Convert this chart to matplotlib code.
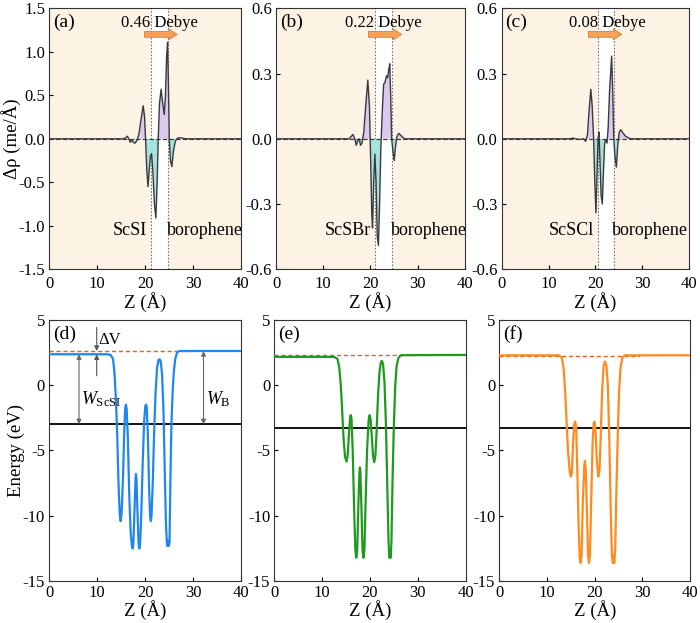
import matplotlib
matplotlib.use("Agg")
from matplotlib import pyplot as plt

plt.rcParams['font.family'] = ['Liberation Serif', 'DejaVu Serif']
plt.rcParams['mathtext.fontset'] = 'custom'
plt.rcParams['mathtext.rm'] = 'Liberation Serif'
plt.rcParams['mathtext.it'] = 'Liberation Serif:italic'
plt.rcParams['axes.unicode_minus'] = False

# ---- charge density difference (top row) ----
za = [0, 15.5, 15.9, 16.3, 16.6, 16.9, 17.2, 17.5, 17.9, 18.3, 18.7, 19.1, 19.6, 19.9, 20.1,
      20.35, 20.6, 20.85, 21.1, 21.35, 21.6, 21.95, 22.25, 22.5, 22.75, 23.0, 23.35, 23.7,
      24.0, 24.25, 24.5, 24.7, 24.85, 25.05, 25.3, 25.6, 25.9, 26.3, 26.8, 27.5, 28.5, 40]
rho_a = [0, 0, 0.01, 0.03, 0.0, -0.04, -0.01, -0.04, -0.05, -0.02, 0.05, 0.2, 0.38, 0.25, 0.0,
         -0.35, -0.55, -0.38, -0.2, -0.17, -0.35, -0.75, -0.91, -0.55, 0.0, 0.4, 0.57, 0.4,
         0.28, 0.5, 0.95, 1.11, 0.7, 0.0, -0.25, -0.32, -0.15, -0.03, 0.01, 0.01, 0.0, 0]

zb = [0, 15.5, 15.9, 16.3, 16.7, 17.0, 17.3, 17.6, 17.9, 18.2, 18.6, 19.0, 19.45, 19.8, 20.05,
      20.3, 20.45, 20.7, 20.95, 21.2, 21.45, 21.7, 21.95, 22.2, 22.5, 22.8, 23.1, 23.4, 23.65,
      23.9, 24.1, 24.3, 24.5, 24.8, 25.05, 25.3, 25.6, 26.0, 26.5, 27.2, 40]
rho_b = [0, 0, 0.01, 0.02, 0.0, -0.03, -0.01, 0.0, -0.03, -0.02, 0.03, 0.15, 0.27, 0.15, -0.1,
         -0.35, -0.41, -0.2, -0.07, -0.2, -0.45, -0.49, -0.3, -0.05, 0.12, 0.25, 0.26, 0.29, 0.28,
         0.32, 0.345, 0.2, 0.0, -0.06, -0.1, -0.04, 0.01, 0.025, 0.015, 0.0, 0]

zc = [0, 14.5, 15.2, 16.5, 17.5, 17.9, 18.3, 18.6, 19.0, 19.3, 19.6, 19.85, 20.1, 20.35, 20.55,
      20.75, 20.95, 21.2, 21.45, 21.7, 21.95, 22.2, 22.45, 22.7, 23.0, 23.45, 23.7, 23.9, 24.15,
      24.45, 24.75, 25.05, 25.4, 25.9, 26.5, 27.5, 40]
rho_c = [0, 0.0, 0.003, -0.003, 0.0, -0.012, 0.02, 0.12, 0.228, 0.15, 0.0, -0.2, -0.34, -0.15, 0.0,
         0.03, -0.1, -0.26, -0.30, -0.15, -0.02, -0.005, -0.02, 0.05, 0.22, 0.38, 0.2, 0.0, -0.08,
         -0.13, -0.03, 0.03, 0.042, 0.025, 0.01, 0.0, 0]

top_z = [za, zb, zc]
top_rho = [rho_a, rho_b, rho_c]
top_tags = ['(a)', '(b)', '(c)']
dipoles = ['0.46 Debye', '0.22 Debye', '0.08 Debye']
dipole_x = [23.0, 22.7, 22.5]
arrow_span = [(19.9, 26.7), (19.6, 26.6), (18.5, 25.6)]
layer_names = ['ScSI', 'ScSBr', 'ScSCl']
interfaces = [(21.25, 24.85), (21.0, 24.55), (20.5, 23.9)]
top_ylims = [(-1.5, 1.5), (-0.6, 0.6), (-0.6, 0.6)]
top_yticks = [[-1.5, -1.0, -0.5, 0.0, 0.5, 1.0, 1.5],
              [-0.6, -0.3, 0.0, 0.3, 0.6],
              [-0.6, -0.3, 0.0, 0.3, 0.6]]

# ---- planar averaged electrostatic potential (bottom row) ----
zd = [0, 12.0, 12.8, 13.3, 13.6, 13.9, 14.2, 14.45, 14.7, 14.9, 15.1, 15.4, 15.65, 15.85, 16.0,
      16.15, 16.4, 16.7, 17.0, 17.25, 17.4, 17.55, 17.8, 18.0, 18.1, 18.2, 18.4, 18.65, 18.8,
      18.95, 19.2, 19.5, 19.8, 20.05, 20.2, 20.35, 20.6, 20.85, 21.05, 21.2, 21.35, 21.6, 21.9,
      22.2, 22.5, 22.8, 23.0, 23.25, 23.55, 23.85, 24.1, 24.35, 24.55, 24.65, 24.8, 24.95,
      25.1, 25.3, 25.5, 25.75, 26.0, 26.3, 26.7, 27.2, 40]
Vd = [2.35, 2.35, 2.3, 2.0, 1.0, -1.0, -4.0, -7.5, -9.8, -10.4, -9.8, -7.0, -3.5, -1.8, -1.5,
      -1.8, -4.0, -8.5, -11.3, -12.3, -12.5, -12.2, -9.5, -7.2, -6.8, -7.2, -9.5, -12.2, -12.5,
      -12.2, -10.0, -6.0, -2.8, -1.6, -1.5, -1.7, -4.0, -8.0, -10.0, -10.4, -10.0, -7.5, -3.5,
      -0.5, 1.3, 1.9, 1.97, 1.85, 0.8, -2.0, -6.5, -10.5, -12.1, -12.3, -11.9, -12.3,
      -12.1, -7.0, -3.0, -0.5, 1.0, 2.0, 2.5, 2.6, 2.6]

ze = [0, 12.5, 13.2, 13.6, 13.9, 14.2, 14.5, 14.8, 15.1, 15.35, 15.6, 15.85, 16.0, 16.15, 16.4,
      16.7, 16.95, 17.15, 17.35, 17.6, 17.8, 17.9, 18.0, 18.2, 18.45, 18.65, 18.85, 19.1, 19.4,
      19.75, 19.95, 20.15, 20.4, 20.65, 20.9, 21.15, 21.4, 21.7, 22.0, 22.3, 22.5, 22.75, 23.05,
      23.35, 23.65, 23.9, 24.05, 24.2, 24.35, 24.5, 24.75, 25.0, 25.3, 25.6, 26.0, 26.5, 40]
Ve = [2.15, 2.15, 2.0, 1.3, 0.0, -2.0, -4.2, -5.5, -5.85, -5.4, -3.8, -2.5, -2.3, -2.6, -5.0,
      -9.5, -12.6, -13.2, -12.6, -9.0, -6.7, -6.3, -6.6, -9.0, -12.6, -13.2, -12.6, -9.0, -5.0,
      -2.6, -2.3, -2.6, -4.0, -5.4, -5.9, -5.4, -3.5, -0.8, 1.0, 1.75, 1.85, 1.6, 0.2,
      -3.0, -8.0, -12.0, -13.2, -12.6, -13.2, -12.0, -7.0, -3.2, 0.0, 1.5, 2.1, 2.28, 2.3]

zf = [0, 12.5, 13.1, 13.5, 13.8, 14.1, 14.4, 14.75, 15.0, 15.2, 15.45, 15.7, 15.9, 16.1, 16.35,
      16.6, 16.85, 17.05, 17.25, 17.5, 17.8, 17.95, 18.1, 18.35, 18.6, 18.8, 19.0, 19.25, 19.55,
      19.8, 19.95, 20.15, 20.45, 20.75, 21.0, 21.25, 21.55, 21.85, 22.15, 22.45, 22.75, 23.05,
      23.35, 23.6, 23.8, 23.95, 24.1, 24.3, 24.55, 24.85, 25.1, 25.4, 25.8, 26.3, 40]
Vf = [2.27, 2.27, 2.1, 1.2, -0.5, -2.8, -5.0, -6.6, -7.0, -6.7, -4.5, -3.0, -2.8, -3.2, -6.5,
      -10.5, -13.2, -13.6, -13.0, -9.0, -6.2, -5.8, -6.3, -9.5, -13.0, -13.6, -13.0, -9.0, -4.5,
      -2.9, -2.8, -3.3, -5.8, -7.0, -6.5, -4.0, -0.5, 1.4, 1.8, 1.5, 0.0, -4.0,
      -9.5, -13.0, -13.6, -13.0, -13.6, -12.5, -8.0, -3.5, -0.5, 1.3, 2.1, 2.27, 2.27]

bot_z = [zd, ze, zf]
bot_V = [Vd, Ve, Vf]
bot_tags = ['(d)', '(e)', '(f)']
vac_levels = [2.6, 2.3, 2.25]
fermi_levels = [-3.0, -3.27, -3.27]
bot_colors = ['#1f86ee', '#1f9a1f', '#ff8a1e']

top_pos = [[0.0704, 0.5677, 0.2737, 0.4190],
           [0.3943, 0.5677, 0.2697, 0.4190],
           [0.7167, 0.5677, 0.2680, 0.4190]]
bot_pos = [[0.0704, 0.0670, 0.2737, 0.4200],
           [0.3919, 0.0670, 0.2731, 0.4200],
           [0.7133, 0.0670, 0.2726, 0.4200]]

fig = plt.figure(figsize=(7.0, 6.23), dpi=100)

for i in range(3):
    ax = fig.add_axes(top_pos[i])
    ax.set_facecolor('#fdf3e5')
    z, r = top_z[i], top_rho[i]
    lo, hi = interfaces[i]
    ax.axvspan(lo, hi, color='white', zorder=0)
    ax.axvline(lo, color='#707070', ls=(0, (1.5, 1.5)), lw=0.8, zorder=1)
    ax.axvline(hi, color='#707070', ls=(0, (1.5, 1.5)), lw=0.8, zorder=1)
    ax.fill_between(z, r, 0, where=[v >= 0 for v in r], interpolate=True,
                    color='#d9caee', lw=0, zorder=2)
    ax.fill_between(z, r, 0, where=[v <= 0 for v in r], interpolate=True,
                    color='#a6e2de', lw=0, zorder=2)
    ax.axhline(0, color='#333333', ls=(0, (4, 2)), lw=0.8, zorder=3)
    ax.plot(z, r, color='#3a3a3a', lw=1.0, zorder=4)
    ylo, yhi = top_ylims[i]
    ax.set_xlim(0, 40)
    ax.set_ylim(ylo, yhi)
    ax.set_xticks([0, 10, 20, 30, 40])
    ax.set_yticks(top_yticks[i])
    ax.set_yticklabels(['%.1f' % t for t in top_yticks[i]])
    ax.tick_params(direction='in', labelsize=12, length=3, pad=3)
    ax.tick_params(axis='x', pad=5)
    ax.set_xlabel('Z (Å)', fontsize=13.5, labelpad=0)
    if i == 0:
        ax.set_ylabel('Δρ (me/Å)', fontsize=13.5)
        ax.yaxis.set_label_coords(-0.15, 0.5)
    span = yhi - ylo
    ax.text(0.8, yhi - 0.055 * span, top_tags[i], fontsize=14, va='center', ha='left')
    ax.text(dipole_x[i], yhi - 0.055 * span, dipoles[i], fontsize=12,
            va='center', ha='center')
    a0, a1 = arrow_span[i]
    ax.annotate('', xy=(a1, yhi - 0.1 * span), xytext=(a0, yhi - 0.1 * span),
                arrowprops=dict(arrowstyle='simple,head_length=0.55,head_width=0.7,tail_width=0.38',
                                fc='#f7a25a', ec='#e07a2e', lw=0.6, mutation_scale=11,
                                shrinkA=0, shrinkB=0),
                zorder=5)
    ax.text(lo - 0.9, ylo + 0.15 * span, layer_names[i], fontsize=13, ha='right', va='center')
    ax.text(hi - 0.3, ylo + 0.15 * span, 'borophene', fontsize=13, ha='left', va='center',
            clip_on=True)
    for s in ax.spines.values():
        s.set_color('#333333')

for i in range(3):
    ax = fig.add_axes(bot_pos[i])
    ax.axhline(fermi_levels[i], color='#111111', lw=1.4, zorder=2)
    ax.plot([0, 29.5], [vac_levels[i], vac_levels[i]], color='#e0602a',
            ls=(0, (3, 2)), lw=1.0, zorder=3)
    ax.plot(bot_z[i], bot_V[i], color=bot_colors[i], lw=1.6, zorder=4)
    ax.set_xlim(0, 40)
    ax.set_ylim(-15, 5)
    ax.set_xticks([0, 10, 20, 30, 40])
    ax.set_yticks([-15, -10, -5, 0, 5])
    ax.tick_params(direction='in', labelsize=12, length=3, pad=3)
    ax.set_xlabel('Z (Å)', fontsize=13.5, labelpad=-1)
    ax.text(0.8, 3.9, bot_tags[i], fontsize=14, va='center', ha='left')
    for s in ax.spines.values():
        s.set_color('#333333')
    if i == 0:
        ax.set_ylabel('Energy (eV)', fontsize=13.5)
        ax.yaxis.set_label_coords(-0.125, 0.5)
        vac_left = bot_V[0][0]
        arr = dict(arrowstyle='-|>', color='#555555', lw=0.8, mutation_scale=7,
                   shrinkA=0, shrinkB=0)
        ax.annotate('', xy=(9.9, vac_levels[0]), xytext=(9.9, 4.4), arrowprops=arr)
        ax.annotate('', xy=(9.9, vac_left), xytext=(9.9, 0.7), arrowprops=arr)
        ax.text(10.3, 3.45, 'ΔV', fontsize=12, va='center', ha='left')
        arr2 = dict(arrowstyle='<|-|>', color='#666666', lw=0.8, mutation_scale=7,
                    shrinkA=0, shrinkB=0)
        ax.annotate('', xy=(6.2, fermi_levels[0]), xytext=(6.2, vac_left), arrowprops=arr2)
        ax.annotate('', xy=(32.2, fermi_levels[0]), xytext=(32.2, vac_levels[0]), arrowprops=arr2)
        ax.text(6.6, -1.1, r'$W_{\mathrm{ScSI}}$', fontsize=13, va='center', ha='left')
        ax.text(32.8, -1.1, r'$W_{\mathrm{B}}$', fontsize=13, va='center', ha='left')

fig.savefig('out.png', dpi=100)
